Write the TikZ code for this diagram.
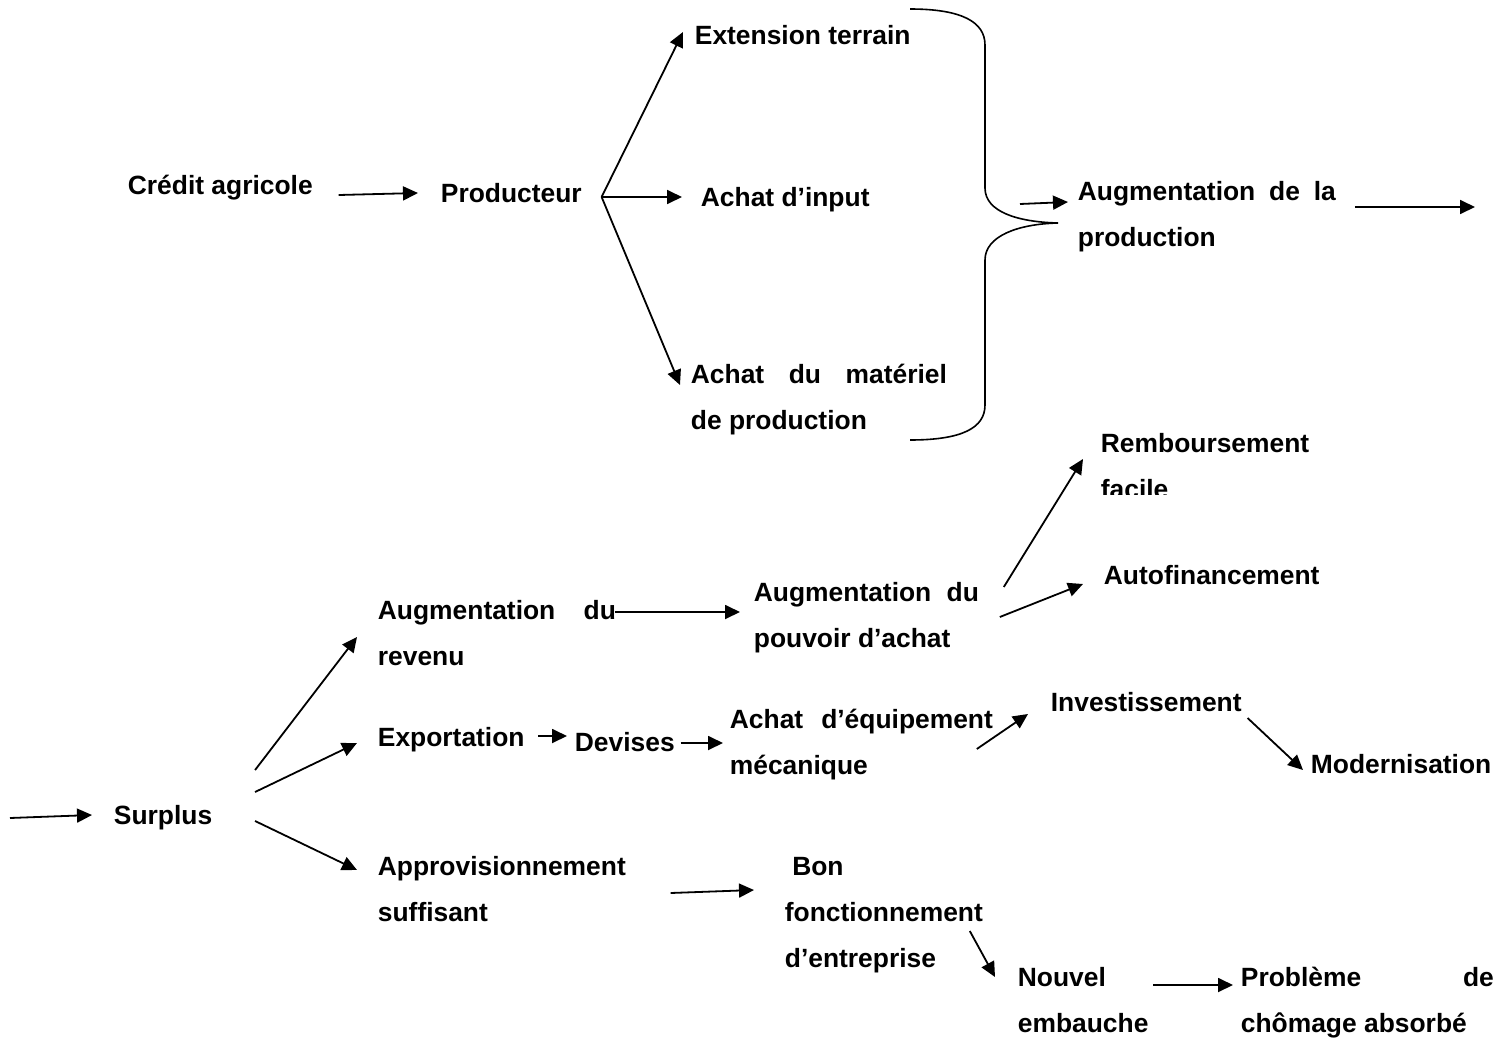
\documentclass[tikz,border=0pt]{standalone}
\usepackage{fontspec}
\setmainfont{Liberation Sans}
\usetikzlibrary{arrows.meta}
\newcommand{\jline}[2]{\makebox[#1][s]{#2}}

\begin{document}
\begin{tikzpicture}[x=0.5pt,y=-0.5pt,>={Triangle[length=7.5pt,width=7pt]},line width=0.9pt]
	\useasboundingbox (0,0) rectangle (1511,1039);
	\begin{scope}\tikzset{every node/.style={anchor=base west,inner sep=0,align=left,font=\fontsize{13.2pt}{23pt}\selectfont\bfseries}}
	\node (credit) at (127,194) {Crédit agricole};
	\node (prod) at (440,202) {Producteur};
	\node (ext) at (694,44) {Extension terrain};
	\node (input) at (700,206) {Achat d’input};
	\node (mat) at (690,429) {\jline{128pt}{Achat du matériel}\\de production};
	\node (augprod) at (1077,246) {\jline{129pt}{Augmentation de la}\\production};
	\begin{scope}
		\clip (1090,420) rectangle (1330,494);
		\node (remb) at (1100,498) {Remboursement\\facile};
	\end{scope}
	\node (autof) at (1103,584) {Autofinancement};
	\node (surplus) at (113,824) {Surplus};
	\node (augrev) at (377,665) {\jline{119pt}{Augmentation du}\\revenu};
	\node (pouvoir) at (753,647) {\jline{112.5pt}{Augmentation du}\\pouvoir d’achat};
	\node (export) at (377,746) {Exportation};
	\node (devises) at (574,751) {Devises};
	\node (equip) at (729,774) {\jline{131.5pt}{Achat d’équipement}\\mécanique};
	\node (invest) at (1050,711) {Investissement};
	\node (modern) at (1310,773) {Modernisation};
	\node (appro) at (377,921) {Approvisionnement\\suffisant};
	\node (bon) at (784,967) {\hspace*{3.7pt}Bon\\fonctionnement\\d’entreprise};
	\node (nouvel) at (1017,1032) {Nouvel\\embauche};
	\node (probleme) at (1240,1032) {\jline{126.5pt}{Problème de}\\chômage absorbé};
	\end{scope}
	% accolade
	\coordinate (brtip) at (1058,223);
	\draw[line width=0.8pt] (910,9) .. controls (962,9) and (985,22) .. (985,45) -- (985,188)
		.. controls (985,212) and (1018,222) .. (brtip)
		.. controls (1018,224) and (985,236) .. (985,260) -- (985,405)
		.. controls (985,428) and (962,440) .. (910,440);
	\begin{scope}
		\coordinate (fork) at ([shift={(19,-5)}]prod.base east);
		\coordinate (in) at (10,818);
		\coordinate (out) at (1475,207);
		\path[->] ([shift={(25,1)}]credit.base east) edge ([shift={(-22,-9)}]prod.base west);
		\path[->] (fork) edge ([shift={(-11,-12)}]ext.base west)
			edge ([shift={(-18,-9)}]input.base west)
			edge ([shift={(-10,-44)}]mat.base west);
		\path[->] ([shift={(-57,-42)}]augprod.base west) edge ([shift={(-9,-44)}]augprod.base west);
		\path[->] ([shift={(18,-39)}]augprod.base east) edge (out);
		\path[->] (in) edge ([shift={(-21,-9)}]surplus.base west);
		\path[->] ([shift={(42,-54)}]surplus.base east) edge ([shift={(-20,-28)}]augrev.base west);
		\path[->] ([shift={(42,-32)}]surplus.base east) edge ([shift={(-20,-3)}]export.base west);
		\path[->] ([shift={(42,-3)}]surplus.base east) edge ([shift={(-20,-51)}]appro.base west);
		\path[->] ([shift={(-2,-53)}]augrev.base east) edge ([shift={(-13,-35)}]pouvoir.base west);
		\path[->] ([shift={(24,-60)}]pouvoir.base east) edge ([shift={(-17,-39)}]remb.base west);
		\path[->] ([shift={(20,-30)}]pouvoir.base east) edge ([shift={(-20,0)}]autof.base west);
		\path[->] ([shift={(13,-10)}]export.base east) edge ([shift={(-7,-15)}]devises.base west);
		\path[->] ([shift={(5,-8)}]devises.base east) edge ([shift={(-6,-31)}]equip.base west);
		\path[->] ([shift={(-17,-25)}]equip.base east) edge ([shift={(-22,3)}]invest.base west);
		\path[->] ([shift={(5,7)}]invest.base east) edge ([shift={(-7,-3)}]modern.base west);
		\path[->] ([shift={(44,-28)}]appro.base east) edge ([shift={(-30,-77)}]bon.base west);
		\path[->] ([shift={(-14,-36)}]bon.base east) edge ([shift={(-22,-55)}]nouvel.base west);
		\path[->] ([shift={(4,-47)}]nouvel.base east) edge ([shift={(-7,-47)}]probleme.base west);
	\end{scope}
\end{tikzpicture}
\end{document}
